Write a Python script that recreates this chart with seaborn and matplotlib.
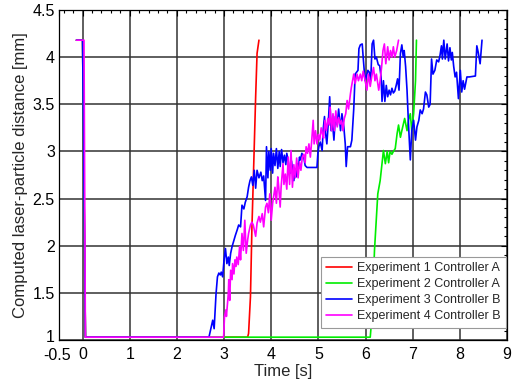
import matplotlib
matplotlib.use("Agg")
import matplotlib.pyplot as plt
import matplotlib.transforms as mtransforms
import seaborn as sns
import numpy as np
import pandas as pd
from matplotlib.ticker import MultipleLocator, FixedLocator

# ---------------- data ----------------
series_names = ["Experiment 1 Controller A", "Experiment 2 Controller A",
                "Experiment 3 Controller B", "Experiment 4 Controller B"]
series_colors = ["#ff0000", "#00ee00", "#0000ff", "#ff00ff"]

red_x = [-0.13, 0.0, 0.06, 3.50, 3.52, 3.56, 3.59, 3.63, 3.67, 3.70, 3.74]
red_y = [4.18, 4.18, 1.03, 1.03, 1.07, 1.46, 2.17, 2.87, 3.58, 4.04, 4.18]

green_x = [-0.13, 0.0, 0.06, 6.10, 6.14, 6.19, 6.26, 6.31, 6.38, 6.42, 6.46, 6.49,
           6.52, 6.56, 6.59, 6.63, 6.67, 6.70, 6.74, 6.77, 6.83, 6.88, 6.91, 6.95,
           6.98, 7.02, 7.06, 7.08]
green_y = [4.18, 4.18, 1.03, 1.03, 1.28, 1.95, 2.55, 2.69, 3.01, 2.87, 3.00, 2.88,
           3.00, 2.97, 3.00, 3.03, 3.19, 3.28, 3.15, 3.22, 3.35, 3.22, 3.33, 3.40,
           3.22, 3.40, 3.75, 4.18]

blue_x = [-0.13, 0.00, 0.06, 2.68, 2.73, 2.76, 2.79, 2.83, 2.86, 2.89, 2.92, 2.94,
          2.97, 3.00, 3.03, 3.06, 3.09, 3.11, 3.14, 3.17, 3.21, 3.24, 3.28, 3.31,
          3.35, 3.38, 3.42, 3.45, 3.49, 3.52, 3.55, 3.58, 3.61, 3.64, 3.67, 3.70,
          3.74, 3.78, 3.81, 3.84, 3.88, 3.90, 3.93, 3.95, 3.98, 4.00, 4.03, 4.05,
          4.08, 4.11, 4.14, 4.17, 4.19, 4.22, 4.25, 4.28, 4.31, 4.33, 4.36, 4.39,
          4.41, 4.43, 4.48, 4.50, 4.53, 4.55, 4.58, 4.60, 4.62, 4.65, 4.69, 4.72,
          4.76, 4.97, 4.99, 5.01, 5.04, 5.08, 5.10, 5.13, 5.15, 5.18, 5.21, 5.24,
          5.27, 5.30, 5.33, 5.36, 5.40, 5.43, 5.47, 5.50, 5.54, 5.57, 5.59, 5.62,
          5.68, 5.71, 5.75, 5.78, 5.81, 5.84, 5.86, 5.89, 5.93, 5.95, 5.99, 6.02,
          6.05, 6.08, 6.11, 6.14, 6.17, 6.20, 6.23, 6.27, 6.30, 6.33, 6.35, 6.38,
          6.41, 6.44, 6.47, 6.50, 6.53, 6.56, 6.59, 6.62, 6.65, 6.68, 6.71, 6.74,
          6.77, 6.80, 6.82, 6.85, 6.88, 6.91, 6.95, 6.98, 7.02, 7.06, 7.09, 7.13,
          7.16, 7.20, 7.23, 7.27, 7.30, 7.34, 7.37, 7.40, 7.43, 7.47, 7.51, 7.55,
          7.58, 7.61, 7.63, 7.66, 7.69, 7.73, 7.76, 7.79, 7.82, 7.84, 7.87, 7.90,
          7.93, 7.97, 8.01, 8.04, 8.07, 8.10, 8.15, 8.20, 8.33, 8.36, 8.39, 8.43,
          8.47]
blue_y = [4.18, 4.18, 1.03, 1.03, 1.14, 1.21, 1.12, 1.49, 1.67, 1.71, 1.69, 1.72,
          1.67, 1.85, 1.97, 1.81, 1.88, 1.79, 1.92, 1.99, 2.06, 2.11, 2.17, 2.22,
          2.20, 2.43, 2.39, 2.46, 2.52, 2.62, 2.69, 2.73, 2.64, 2.80, 2.61, 2.80,
          2.72, 2.78, 2.69, 2.74, 2.48, 3.05, 2.72, 3.00, 2.80, 3.03, 2.77, 2.98,
          2.85, 3.03, 2.82, 3.00, 2.84, 3.02, 2.88, 2.96, 2.86, 2.98, 2.90, 2.78,
          2.77, 2.90, 2.69, 2.80, 2.73, 2.87, 2.84, 2.94, 2.91, 2.98, 2.94, 2.85,
          2.83, 2.83, 2.98, 3.05, 3.10, 3.01, 3.22, 3.37, 3.20, 3.08, 3.30, 3.58,
          3.22, 3.30, 3.12, 3.37, 3.28, 3.45, 3.22, 3.40, 3.26, 3.08, 2.84, 3.05,
          3.05, 3.12, 3.45, 3.82, 3.84, 3.86, 4.09, 4.13, 4.14, 4.00, 3.75, 3.80,
          3.86, 3.84, 3.75, 4.14, 4.18, 3.98, 4.00, 3.92, 3.91, 3.79, 3.53, 3.75,
          3.53, 3.70, 3.58, 3.65, 3.60, 3.67, 3.62, 3.64, 3.70, 3.77, 3.65, 4.04,
          4.13, 4.00, 4.07, 3.90, 3.65, 3.30, 2.91, 3.22, 3.33, 3.12, 3.26, 3.33,
          3.44, 3.40, 3.45, 3.63, 3.60, 3.47, 3.50, 3.98, 3.82, 3.86, 3.97, 3.95,
          4.02, 4.12, 3.98, 4.18, 3.98, 4.14, 3.96, 4.10, 3.97, 4.05, 3.90, 3.79,
          3.84, 3.56, 3.86, 3.63, 3.75, 3.66, 3.79, 3.79, 3.80, 4.12, 4.05, 3.93,
          4.18]

magenta_x = [-0.13, 0.03, 0.06, 2.99, 3.01, 3.04, 3.05, 3.09, 3.10, 3.12, 3.14, 3.17,
             3.18, 3.21, 3.23, 3.25, 3.27, 3.30, 3.33, 3.35, 3.38, 3.41, 3.44, 3.47,
             3.50, 3.52, 3.56, 3.59, 3.62, 3.65, 3.67, 3.70, 3.74, 3.77, 3.81, 3.84,
             3.88, 3.91, 3.94, 3.97, 4.00, 4.03, 4.05, 4.08, 4.11, 4.14, 4.16, 4.19,
             4.21, 4.25, 4.27, 4.30, 4.33, 4.36, 4.39, 4.42, 4.45, 4.48, 4.51, 4.54,
             4.57, 4.60, 4.63, 4.66, 4.69, 4.72, 4.74, 4.77, 4.80, 4.83, 4.86, 4.89,
             4.91, 4.94, 4.97, 5.00, 5.03, 5.06, 5.09, 5.11, 5.14, 5.17, 5.20, 5.23,
             5.25, 5.28, 5.31, 5.34, 5.37, 5.40, 5.43, 5.46, 5.49, 5.52, 5.55, 5.58,
             5.61, 5.64, 5.68, 5.70, 5.75, 5.78, 5.82, 5.85, 5.89, 5.92, 5.95, 5.98,
             6.03, 6.06, 6.10, 6.13, 6.17, 6.20, 6.23, 6.28, 6.31, 6.34, 6.37, 6.40,
             6.43, 6.47, 6.50, 6.53, 6.56, 6.59, 6.62, 6.66, 6.70]
magenta_y = [4.18, 4.18, 1.03, 1.03, 1.25, 1.32, 1.25, 1.49, 1.64, 1.42, 1.74, 1.64,
             1.81, 1.70, 1.85, 1.78, 1.88, 1.80, 1.99, 1.85, 2.13, 1.95, 2.27, 1.92,
             2.06, 2.13, 2.22, 2.25, 2.22, 2.15, 2.10, 2.24, 2.31, 2.25, 2.34, 2.20,
             2.41, 2.45, 2.35, 2.55, 2.27, 2.45, 2.52, 2.62, 2.45, 2.73, 2.62, 2.41,
             2.62, 2.87, 2.65, 2.76, 2.60, 2.94, 2.65, 3.01, 2.62, 2.86, 2.72, 2.93,
             2.72, 2.89, 2.80, 2.94, 2.97, 2.88, 3.05, 2.98, 3.08, 2.94, 3.12, 3.33,
             3.08, 3.22, 3.08, 3.18, 3.12, 3.25, 3.18, 3.14, 3.33, 3.22, 3.35, 3.28,
             3.47, 3.22, 3.40, 3.22, 3.43, 3.26, 3.36, 3.29, 3.33, 3.22, 3.35, 3.40,
             3.54, 3.45, 3.61, 3.68, 3.82, 3.72, 3.82, 3.75, 3.82, 3.75, 3.85, 3.78,
             3.65, 3.82, 3.69, 3.79, 3.89, 3.75, 3.82, 3.65, 3.75, 3.89, 4.07, 4.14,
             3.93, 4.11, 3.97, 4.07, 4.00, 4.11, 4.00, 4.07, 4.18]

x_ticks = [-0.5, 0, 1, 2, 3, 4, 5, 6, 7, 8, 9]
x_tick_labels = ["-0.5", "0", "1", "2", "3", "4", "5", "6", "7", "8", "9"]
y_ticks = [1, 1.5, 2, 2.5, 3, 3.5, 4, 4.5]
y_tick_labels = ["1", "1.5", "2", "2.5", "3", "3.5", "4", "4.5"]

# ---------------- plot ----------------
sns.set_style("white")
plt.rcParams["font.family"] = ["Liberation Sans", "DejaVu Sans"]

fig = plt.figure(figsize=(5.14, 3.79), dpi=100)
ax = fig.add_axes([59 / 514, 1 - 340 / 379, 448 / 514, 330 / 379])

all_x = [red_x, green_x, blue_x, magenta_x]
all_y = [red_y, green_y, blue_y, magenta_y]
for xs, ys, name, col in zip(all_x, all_y, series_names, series_colors):
    df = pd.DataFrame({"t": xs, "d": ys})
    sns.lineplot(data=df, x="t", y="d", sort=False, estimator=None,
                 color=col, linewidth=1.2, label=name, ax=ax, zorder=3)

ax.set_xlim(-0.5, 9)
ax.set_ylim(1, 4.5)
ax.xaxis.set_major_locator(FixedLocator(x_ticks))
ax.set_xticklabels(x_tick_labels)
ax.yaxis.set_major_locator(FixedLocator(y_ticks))
ax.set_yticklabels(y_tick_labels)
ax.xaxis.set_minor_locator(MultipleLocator(0.2))
ax.yaxis.set_minor_locator(MultipleLocator(0.1))
ax.tick_params(which="both", direction="in", top=True, right=True,
               colors="black", labelsize=11.5)
ax.tick_params(axis="x", which="major", pad=5)
ax.tick_params(axis="y", which="major", pad=3)
ax.tick_params(which="major", length=4, width=0.8)
ax.tick_params(which="minor", length=2.5, width=0.8)
ax.grid(True, which="major", color="#333333", linewidth=1.1)
ax.set_axisbelow(True)
for s in ax.spines.values():
    s.set_color("black")
    s.set_linewidth(0.9)

# nudge the corner labels apart a little ("1" on y and "-0.5" on x)
ylab0 = ax.get_yticklabels()[0]
ylab0.set_transform(ylab0.get_transform() +
                    mtransforms.ScaledTranslation(0, 4 / 100, fig.dpi_scale_trans))
xlab0 = ax.get_xticklabels()[0]
xlab0.set_transform(xlab0.get_transform() +
                    mtransforms.ScaledTranslation(-2 / 100, -1 / 100, fig.dpi_scale_trans))

ax.set_xlabel("Time [s]", fontsize=12, labelpad=1)
ax.set_ylabel("Computed laser-particle distance [mm]", fontsize=12, labelpad=3)

leg = ax.legend(loc="lower right", bbox_to_anchor=(0.998, 0.037), fontsize=9,
                frameon=True, fancybox=False, framealpha=1, edgecolor="#999999",
                handlelength=2.1, handletextpad=0.35, borderpad=0.45,
                labelspacing=0.32, borderaxespad=0)
leg.get_frame().set_linewidth(0.8)

fig.savefig("out.png", dpi=100)
